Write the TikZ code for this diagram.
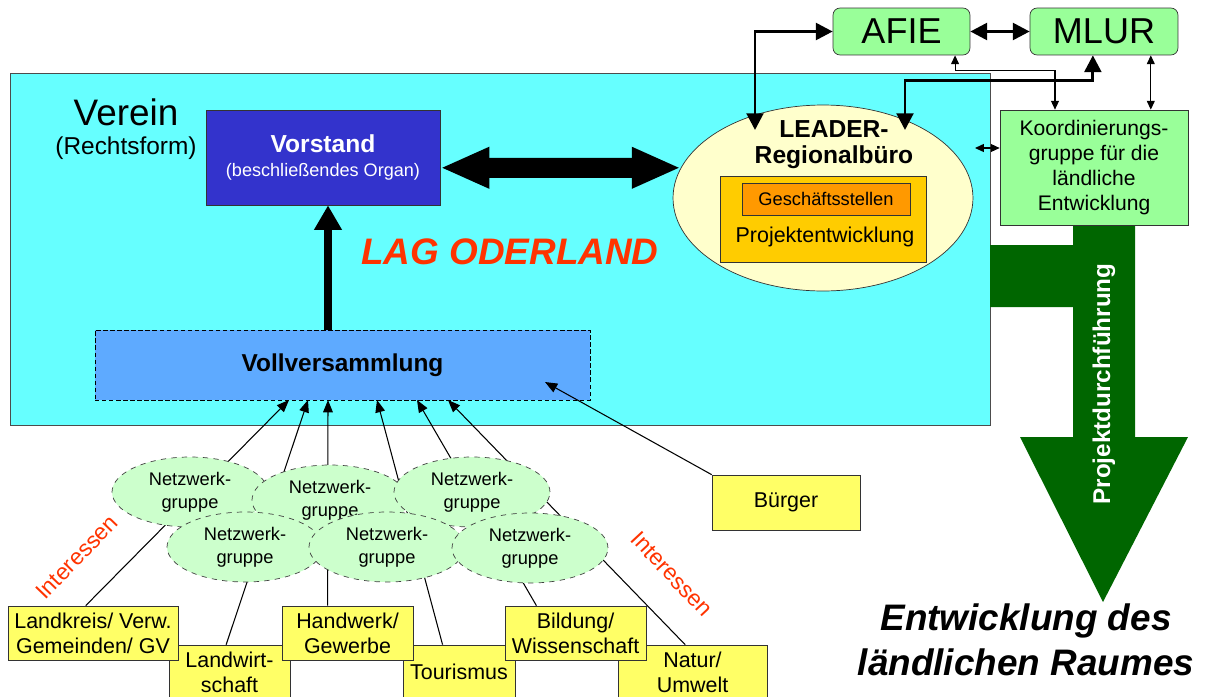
\documentclass[tikz,border=0pt]{standalone}
\usepackage{fontspec}
\setmainfont{Liberation Sans}
\usepackage{tikz}
\usetikzlibrary{shapes.geometric,arrows.meta}

\definecolor{lagcyan}{HTML}{66FFFF}
\definecolor{vorblue}{HTML}{3333CC}
\definecolor{vollblue}{HTML}{5EAAFF}
\definecolor{leaderyellow}{HTML}{FFFFCC}
\definecolor{peorange}{HTML}{FFCC00}
\definecolor{gsorange}{HTML}{FF9900}
\definecolor{amtgreen}{HTML}{99FF99}
\definecolor{netzgreen}{HTML}{CCFFCC}
\definecolor{boxyellow}{HTML}{FFFF66}
\definecolor{pdgreen}{HTML}{006600}
\definecolor{lagred}{HTML}{FF3300}

\newcommand{\fsz}[2]{\fontsize{#1}{#2}\selectfont}

\pgfdeclarelayer{back}
\pgfdeclarelayer{wires}
\pgfsetlayers{back,wires,main}

\begin{document}
\begin{tikzpicture}[x=0.02cm,y=-0.02cm,
        amtbox/.style={draw=black!80,fill=amtgreen,rounded corners=4pt,
                minimum height=0.94cm,inner sep=0pt,font=\fsz{20.5}{24}},
        netz/.style={ellipse,draw=black!75,dashed,fill=netzgreen,
                minimum width=3.12cm,minimum height=1.4cm,inner sep=0pt,
                align=center,font=\fsz{10.4}{13}},
        interest/.style={draw=black!80,fill=boxyellow,minimum height=1.08cm,
                inner sep=0pt,align=center,font=\fsz{12.2}{14.2}},
        thinarrow/.style={line width=0.6pt,-{Triangle[length=7pt,width=5.5pt]}},
        dblthin/.style={line width=0.6pt,
                {Triangle[length=5pt,width=4.5pt]}-{Triangle[length=5pt,width=4.5pt]}},
        dblthick/.style={line width=1.7pt,
                {Triangle[length=9.5pt,width=9.5pt]}-{Triangle[length=9.5pt,width=9.5pt]}}]

                              \useasboundingbox (0,0) rectangle (1205,697);

                              % Verein
                              \begin{pgfonlayer}{back}
                                    \draw[draw=black!70,fill=lagcyan] (10,73) rectangle (990,425);
                              \end{pgfonlayer}
                              \node[font=\fsz{21}{24}] (verein) at (126,112) {Verein};
                              \node[font=\fsz{13.9}{16}] (rform) at (126,148) {(Rechtsform)};

                              % Projektdurchfuehrung
                              \fill[pdgreen] (990,245) -- (1073,245) -- (1073,225) -- (1135,225)
                              -- (1135,437) -- (1188,437) -- (1103,602) -- (1020,437)
                              -- (1073,437) -- (1073,307) -- (990,307) -- cycle;
                              \node[rotate=90,text=white,font=\fsz{13.8}{16}\bfseries] (pd) at (1104,384)
                              {Projektdurchführung};

                              % Vorstand
                              \node[draw=black!80,fill=vorblue,text=white,minimum width=4.68cm,
                              minimum height=1.9cm,align=center] (vorstand) at (323,157.5)
                              {{\fsz{14}{17}\bfseries Vorstand}\\[1.5pt]{\fsz{10.3}{13}(beschließendes Organ)}};

                              % LEADER-Regionalbuero
                              \node[ellipse,draw=black!80,fill=leaderyellow,minimum width=6cm,
                              minimum height=3.72cm] (leader) at (823,198) {};
                              \node[align=center,font=\fsz{14}{14.8}\bfseries] (ltitle) at (834,145)
                              {LEADER-\\Regionalbüro};
                              \node[draw=black!80,fill=peorange,minimum width=4.12cm,
                              minimum height=1.72cm] (pe) at (823,219) {};
                              \node[draw=black!80,fill=gsorange,minimum width=3.36cm,
                              minimum height=0.64cm,font=\fsz{10.4}{12}] (gs) at (826,199) {Geschäftsstellen};
                              \node[font=\fsz{12.2}{14}] (pelabel) at (825,237) {Projektentwicklung};

                              \draw[line width=0.4cm,{Triangle[length=0.98cm,width=0.76cm]}-{Triangle[length=0.98cm,width=0.76cm]}]
                              (vorstand.-5) -- (leader.168);

                              % Vollversammlung
                              \node[draw=black,dash pattern=on 2.5pt off 1.5pt,fill=vollblue,minimum width=9.9cm,
                              minimum height=1.4cm,font=\fsz{13.9}{16}\bfseries] (voll) at (342.5,365)
                              {Vollversammlung};
                              \coordinate (v1) at (289,400);
                              \coordinate (v2) at (308,400);
                              \coordinate (v3) at (328,400);
                              \coordinate (v4) at (377,400);
                              \coordinate (v5) at (417,400);
                              \coordinate (v6) at (448,400);
                              \coordinate (vb) at (545,382);

                              \draw[line width=4pt,-{Triangle[length=14pt,width=15pt]}]
                              (v3 |- voll.north) -- (v3 |- vorstand.south);

                              % Aemter
                              \node[amtbox,minimum width=2.74cm] (afie) at (901.5,31.5) {AFIE};
                              \node[amtbox,minimum width=2.96cm] (mlur) at (1104,31.5) {MLUR};
                              \node[draw=black!80,fill=amtgreen,minimum width=3.76cm,minimum height=2.3cm,
                              align=center,font=\fsz{12}{14.2}] (koord) at (1094,167.5)
                              {Koordinierungs-\\gruppe für die\\ländliche\\Entwicklung};

                              \coordinate (la) at (755,130);
                              \coordinate (lb) at (905,130);
                              \coordinate (kl) at (975,148);
                              \draw[dblthick] (la) |- (afie.west);
                              \draw[dblthick] (mlur.-115) -- ++(0,25) -| (lb);
                              \draw[dblthick] (afie.east) -- (mlur.west);
                              \draw[dblthin] (afie.-24) -- ++(0,15) -| (koord.124);
                              \draw[dblthin] (mlur.-27) -- (mlur.-27 |- koord.north);
                              \draw[dblthin] (kl) -- (kl -| koord.west);

                              % Netzwerkgruppen
                              \foreach \name/\px/\py in {n1/190/492,n2/330/500,n3/472/492,
                                                         n4/245/547,n5/387/547,n6/530/548}
                                    \node[netz] (\name) at (\px,\py) {Netzwerk-\\gruppe};

                              % Interessen
                              \node[interest,minimum width=2.42cm] (lw) at (229.5,672) {Landwirt-\\schaft};
                              \node[interest,minimum width=2.24cm] (tour) at (459,672) {Tourismus};
                              \node[interest,minimum width=2.98cm] (nat) at (692.5,672) {Natur/\\Umwelt};
                              \node[interest,minimum width=3.4cm] (lk) at (93,633) {Landkreis/ Verw.\\Gemeinden/ GV};
                              \node[interest,minimum width=2.62cm] (hw) at (347.5,633) {Handwerk/\\Gewerbe};
                              \node[interest,minimum width=2.82cm] (bild) at (575.5,633) {Bildung/\\Wissenschaft};
                              \node[interest,minimum width=2.96cm,minimum height=1.1cm] (buerger) at (786,502.5) {Bürger};

                              \begin{pgfonlayer}{wires}
                                    \draw[thinarrow] (lk.105) -- (v1);
                                    \draw[thinarrow] (lw.97) -- (v2);
                                    \draw[thinarrow] (hw.126) -- (v3);
                                    \draw[thinarrow] (tour.121) -- (v4);
                                    \draw[thinarrow] (bild.145) -- (v5);
                                    \draw[thinarrow] (nat.105) -- (v6);
                              \end{pgfonlayer}
                              \draw[thinarrow] (buerger.north west) -- (vb);

                              % Labels
                              \node[text=lagred,font=\fsz{21}{24}\bfseries\itshape] (lag) at (510,252) {LAG ODERLAND};
                              \node[text=lagred,rotate=46,font=\fsz{13}{15}] (intl) at (77,557) {Interessen};
                              \node[text=lagred,rotate=-47,font=\fsz{13}{15}] (intr) at (672,574) {Interessen};
                              \node[align=center,font=\fsz{21}{25.5}\bfseries\itshape] (ziel) at (1026,640)
                              {Entwicklung des\\ländlichen Raumes};
                        \end{tikzpicture}
\end{document}
